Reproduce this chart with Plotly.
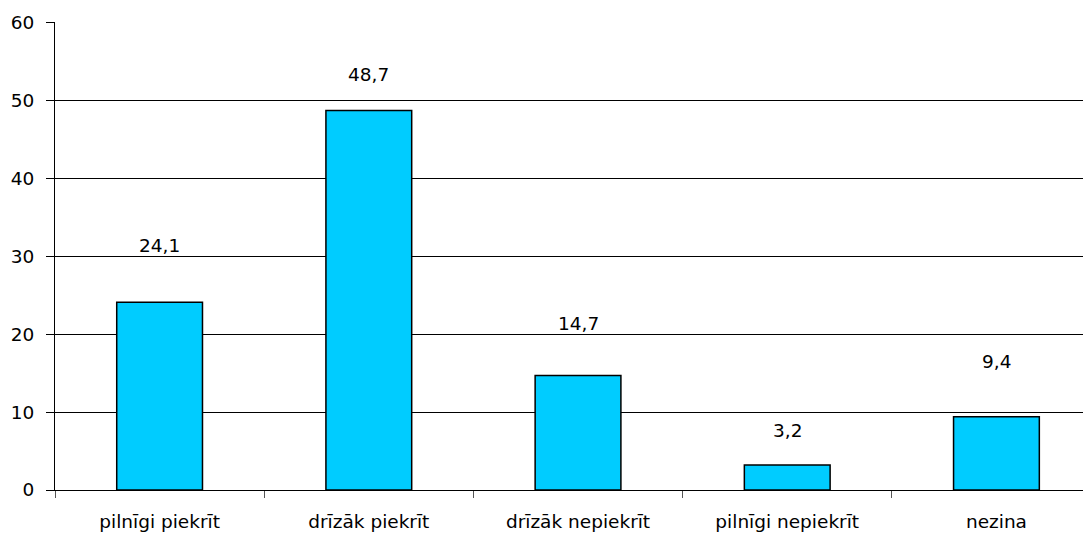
"""Bar chart of survey answers (percent)."""

import plotly.graph_objects as go

CATEGORIES = ["pilnīgi piekrīt", "drīzāk piekrīt", "drīzāk nepiekrīt", "pilnīgi nepiekrīt", "nezina"]
VALUES = [24.1, 48.7, 14.7, 3.2, 9.4]
VALUE_LABELS = ["24,1", "48,7", "14,7", "3,2", "9,4"]
Y_TICKS = [0, 10, 20, 30, 40, 50, 60]

FONT = "DejaVu Sans"
FONT_SIZE = 18.5
BAR_COLOR = "#00CCFF"
LABEL_SHIFTS = [57, 36, 52, 35, 55]

fig = go.Figure()
fig.add_trace(
    go.Bar(
        x=CATEGORIES,
        y=VALUES,
        marker={"color": BAR_COLOR, "line": {"color": "black", "width": 1.5}},
        width=0.41,
        hoverinfo="x+y",
    )
)

for cat, val, text, shift in zip(CATEGORIES, VALUES, VALUE_LABELS, LABEL_SHIFTS):
    fig.add_annotation(
        x=cat,
        y=val,
        text=text,
        showarrow=False,
        yshift=shift,
        font={"family": FONT, "size": FONT_SIZE, "color": "black"},
    )

# page body has an 8px margin, so the figure is shrunk to fit the window
fig.update_layout(
    width=1083,
    height=525,
    margin={"l": 47, "r": 0, "t": 14, "b": 43},
    paper_bgcolor="white",
    plot_bgcolor="white",
    showlegend=False,
    font={"family": FONT, "size": FONT_SIZE, "color": "black"},
)
fig.update_xaxes(
    range=[-0.5, 4.452],
    showline=True,
    linecolor="black",
    linewidth=1,
    ticks="outside",
    tickson="boundaries",
    ticklen=7,
    tickcolor="#555555",
    ticklabelstandoff=15,
    showgrid=False,
)
fig.update_yaxes(
    range=[0, 60.05],
    tickvals=Y_TICKS,
    showline=True,
    linecolor="black",
    linewidth=1,
    ticks="outside",
    ticklen=8,
    tickcolor="black",
    ticklabelstandoff=8,
    showgrid=True,
    gridcolor="black",
    gridwidth=1,
    zeroline=False,
)

fig.write_html("out.html")
